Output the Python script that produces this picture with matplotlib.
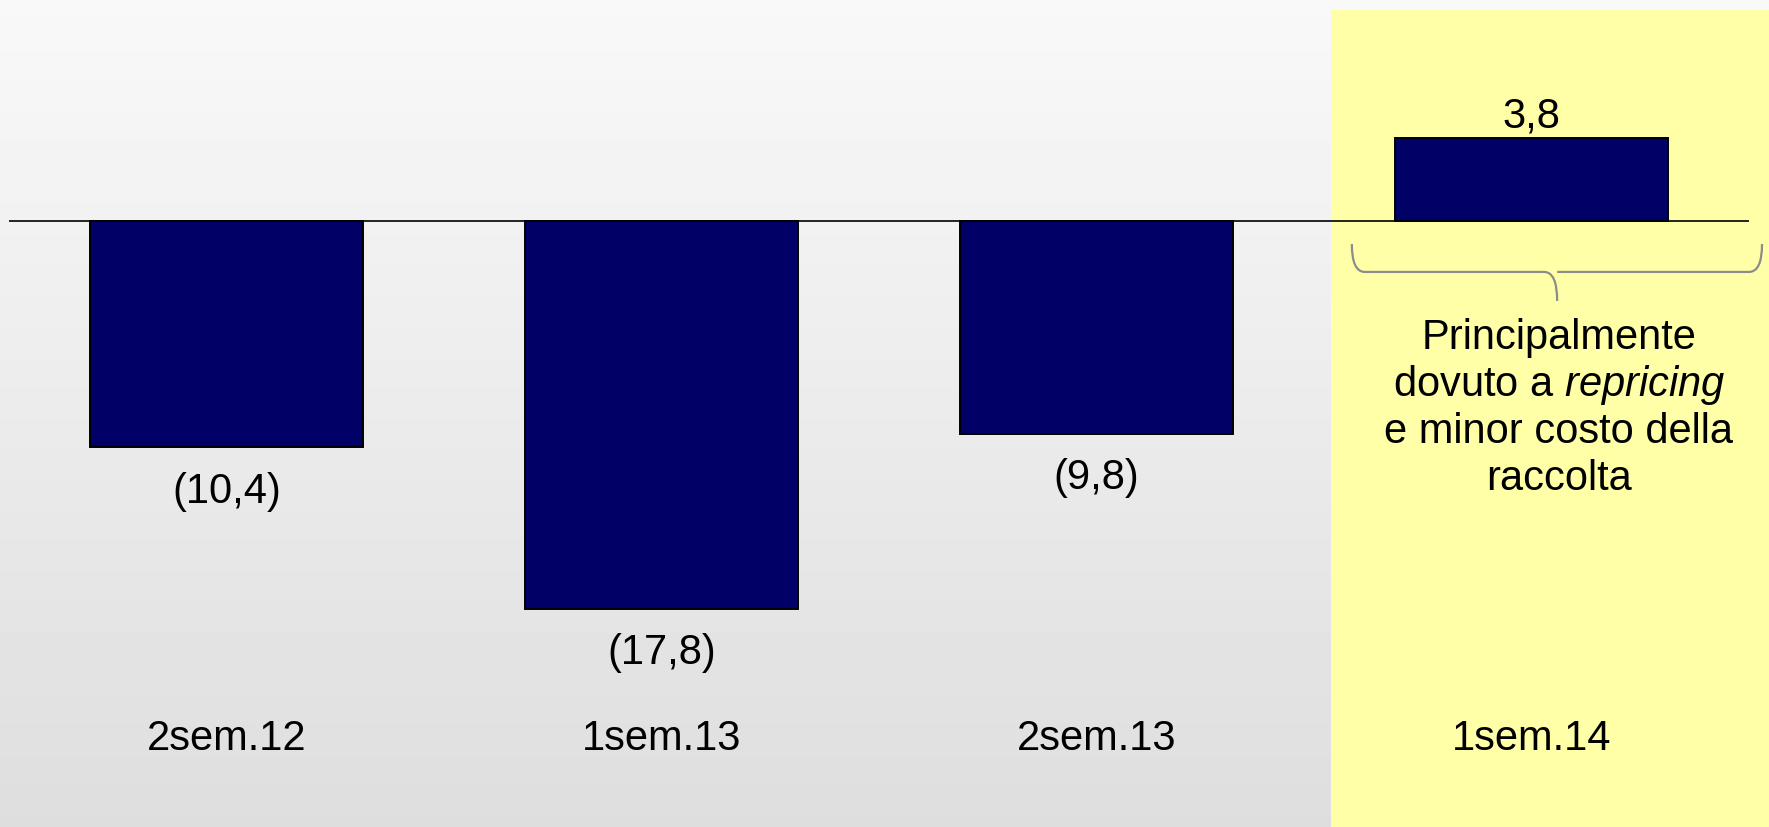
import numpy as np
import matplotlib
matplotlib.use("Agg")
import matplotlib.pyplot as plt
from matplotlib.path import Path
from matplotlib.patches import PathPatch, Rectangle

plt.rcParams['font.family'] = ['Liberation Sans', 'DejaVu Sans']
plt.rcParams['mathtext.fontset'] = 'custom'
plt.rcParams['mathtext.rm'] = 'Liberation Sans'
plt.rcParams['mathtext.it'] = 'Liberation Sans:italic'

# data
periods = ['2sem.12', '1sem.13', '2sem.13', '1sem.14']
values = [-10.4, -17.8, -9.8, 3.8]
value_labels = ['(10,4)', '(17,8)', '(9,8)', '3,8']
note_lines = ['Principalmente', r'dovuto a $\mathit{repricing}$', 'e minor costo della', 'raccolta']

fig = plt.figure(figsize=(17.69, 8.28), dpi=100)
ax = fig.add_axes([0, 0, 1, 1])
ax.set_xlim(-0.5207, 3.546)
ax.set_ylim(-27.81, 10.17)
ax.axis('off')

# grey gradient background
grad = np.linspace(0.975, 0.87, 256).reshape(-1, 1)
ax.imshow(grad, cmap='gray', vmin=0, vmax=1, aspect='auto',
          extent=(-0.5207, 3.546, -27.81, 10.17), zorder=0)

# highlighted last period
ax.add_patch(Rectangle((2.539, -27.81), 1.1, 27.81 + 9.67,
                       facecolor='#ffffa8', edgecolor='none', zorder=1))

x = np.arange(len(periods))
ax.bar(x, values, width=0.628, color='#000066', edgecolor='black',
       linewidth=1.4, zorder=3)
ax.hlines(0, -0.5, 3.5, color='black', linewidth=1.2, zorder=4)

for xi, v, lab in zip(x, values, value_labels):
    if v < 0:
        ax.annotate(lab, (xi, v), xytext=(0, -31), textcoords='offset points',
                    ha='center', va='center', fontsize=30)
    else:
        ax.annotate(lab, (xi, v), xytext=(0, 16), textcoords='offset points',
                    ha='center', va='center', fontsize=30)

for xi, p in zip(x, periods):
    ax.text(xi, -23.75, p, ha='center', va='center', fontsize=30)

# curly brace under the last bar
bl, br, bc = 2.587, 3.530, 3.059
yt, ym, yb = -1.07, -2.35, -3.68
r = 0.03
verts = [(bl, yt), (bl, ym), (bl + r, ym), (bl + r, ym),
         (bc - r, ym), (bc, ym), (bc, yb),
         (bc, ym), (bc + r, ym), (bc + r, ym),
         (br - r, ym), (br, ym), (br, yt)]
codes = [Path.MOVETO, Path.CURVE3, Path.CURVE3, Path.LINETO,
         Path.LINETO, Path.CURVE3, Path.CURVE3,
         Path.MOVETO, Path.CURVE3, Path.CURVE3,
         Path.LINETO, Path.CURVE3, Path.CURVE3]
ax.add_patch(PathPatch(Path(verts, codes), facecolor='none',
                       edgecolor='#8c8c8c', linewidth=1.6, zorder=4))

for i, line in enumerate(note_lines):
    ax.text(3.063, -5.35 - i * 2.15, line, ha='center', va='center', fontsize=30)

fig.savefig('out.png', dpi=100)
